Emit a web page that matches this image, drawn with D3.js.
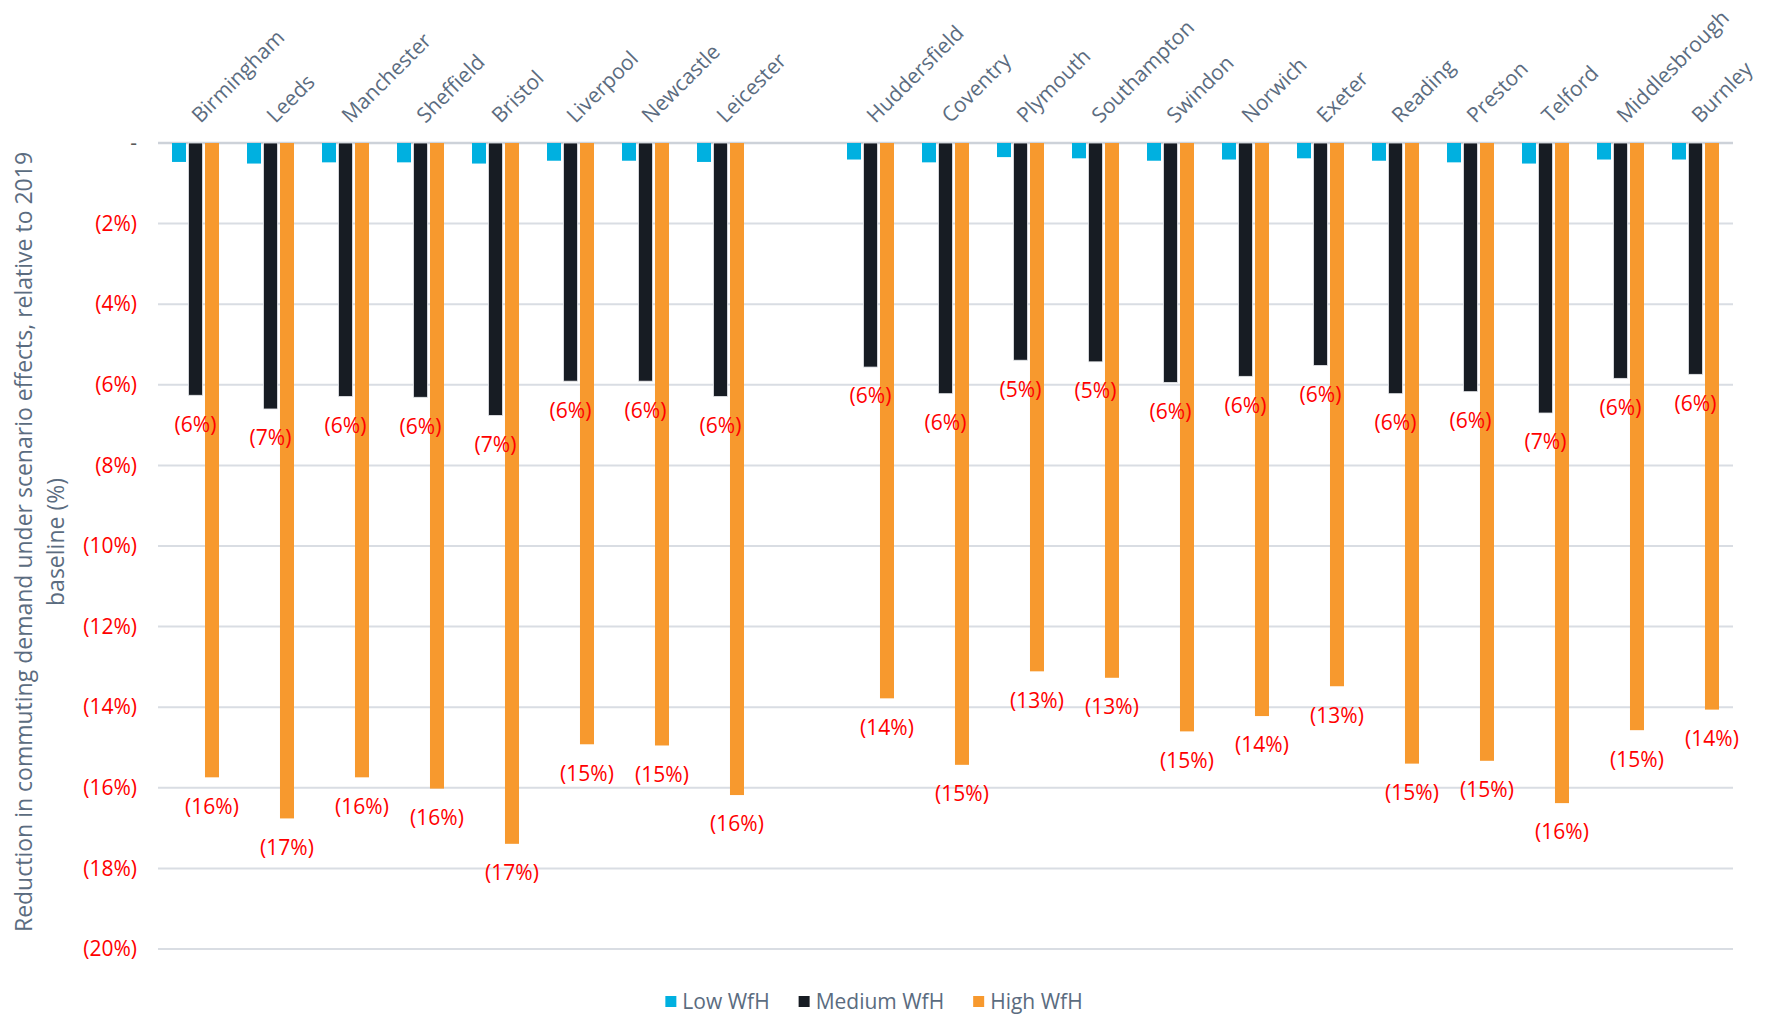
<!DOCTYPE html>
<html>
<head>
<meta charset="utf-8">
<script src="https://cdn.jsdelivr.net/npm/d3@7"></script>
<style>
  body { margin: 0; background: #fff; }
  text { font-family: "Open Sans", "Noto Sans", sans-serif; }
</style>
</head>
<body>
<div id="vis-container"></div>
<script>
// Data (reduction in %, positive = reduction)
const cities = ["Birmingham", "Leeds", "Manchester", "Sheffield", "Bristol", "Liverpool", "Newcastle", "Leicester",
                "Huddersfield", "Coventry", "Plymouth", "Southampton", "Swindon", "Norwich", "Exeter", "Reading",
                "Preston", "Telford", "Middlesbrough", "Burnley"];
const gapAfter = "Leicester";   // empty slot between the two city groups
const series = ["Low WfH", "Medium WfH", "High WfH"];
const lowWfH    = [0.47, 0.51, 0.48, 0.48, 0.51, 0.44, 0.44, 0.47, 0.41, 0.48, 0.35, 0.38, 0.44, 0.41, 0.38, 0.44, 0.48, 0.51, 0.41, 0.41];
const mediumWfH = [6.26, 6.60, 6.29, 6.31, 6.76, 5.91, 5.91, 6.29, 5.56, 6.22, 5.39, 5.43, 5.94, 5.79, 5.52, 6.22, 6.17, 6.70, 5.84, 5.74];
const highWfH   = [15.74, 16.76, 15.74, 16.02, 17.39, 14.92, 14.95, 16.18, 13.78, 15.43, 13.11, 13.27, 14.60, 14.22, 13.48, 15.40, 15.33, 16.38, 14.57, 14.06];
const yTicks = [0, 2, 4, 6, 8, 10, 12, 14, 16, 18, 20];

// Set margins and dimensions
const width = 1773;
const height = 1014;
const margin = { top: 143, right: 40, bottom: 65, left: 158 };

const colors = d3.scaleOrdinal().domain(series).range(["#00B0E0", "#171C23", "#F7992E"]);
const labelColor = "#5B6C80";

const svg = d3.select("#vis-container")
  .append("svg")
  .attr("width", width)
  .attr("height", height);

// Build rows for the bars
const rows = cities.map((c, i) => ({ city: c, values: [lowWfH[i], mediumWfH[i], highWfH[i]] }));

// X domain with a spacer after Leicester
const domain = [];
cities.forEach(c => { domain.push(c); if (c === gapAfter) domain.push("__gap__"); });

const x0 = d3.scaleBand()
  .domain(domain)
  .range([margin.left, width - margin.right])
  .paddingInner(0.3733)
  .paddingOuter(0.1867);

const x1 = d3.scaleBand()
  .domain(series)
  .range([0, x0.bandwidth()])
  .paddingInner(0.15);

const y = d3.scaleLinear()
  .domain([0, 20])
  .range([margin.top, height - margin.bottom]);

// Gridlines
svg.append("g")
  .selectAll("line")
  .data(yTicks)
  .join("line")
    .attr("x1", margin.left)
    .attr("x2", width - margin.right)
    .attr("y1", d => y(d))
    .attr("y2", d => y(d))
    .attr("stroke", d => d === 0 ? "#CDD2D9" : "#D9DDE3")
    .attr("stroke-width", d => d === 0 ? 2.5 : 2);

// Y axis labels
svg.append("g")
  .attr("transform", `translate(${margin.left - 18},0)`)
  .call(d3.axisLeft(y).tickValues(yTicks).tickSize(0)
    .tickFormat(d => d === 0 ? "-" : `(${d}%)`))
  .call(g => g.select(".domain").remove())
  .call(g => g.selectAll("text")
    .attr("font-size", "21px")
    .attr("font-family", "'Open Sans', sans-serif")
    .attr("fill", d => d === 0 ? "#595959" : "#FF0000"));

// Y axis title
svg.append("text")
  .attr("transform", `translate(24,${(margin.top + height - margin.bottom) / 2 - 4}) rotate(-90)`)
  .attr("text-anchor", "middle")
  .attr("font-size", "23px")
  .attr("fill", labelColor)
  .selectAll("tspan")
  .data(["Reduction in commuting demand under scenario effects, relative to 2019", "baseline (%)"])
  .join("tspan")
    .attr("x", 0)
    .attr("dy", (d, i) => i === 0 ? "0.35em" : "1.4em")
    .text(d => d);

// Category labels along the top
svg.append("g")
  .selectAll("text")
  .data(cities)
  .join("text")
    .attr("transform", d => `translate(${x0(d) + x0.bandwidth() / 2 + 5},${margin.top - 19}) rotate(-45)`)
    .attr("font-size", "21px")
    .attr("fill", labelColor)
    .text(d => d);

// Bars
const groups = svg.append("g")
  .selectAll("g")
  .data(rows)
  .join("g")
    .attr("transform", d => `translate(${x0(d.city)},0)`);

groups.selectAll("rect")
  .data(d => series.map((s, i) => ({ key: s, value: d.values[i] })))
  .join("rect")
    .attr("x", d => x1(d.key))
    .attr("y", y(0))
    .attr("width", x1.bandwidth())
    .attr("height", d => y(d.value) - y(0))
    .attr("fill", d => colors(d.key))
    .attr("stroke", d => d.key === "Medium WfH" ? "#E6E8EB" : "none")
    .attr("stroke-width", 0.8);

// Data labels for Medium and High
groups.selectAll("text")
  .data(d => series.map((s, i) => ({ key: s, value: d.values[i] })).filter(d => d.key !== "Low WfH"))
  .join("text")
    .attr("x", d => x1(d.key) + x1.bandwidth() / 2)
    .attr("y", d => y(d.value) + 29)
    .attr("dy", "0.35em")
    .attr("text-anchor", "middle")
    .attr("font-size", "21px")
    .attr("fill", "#FF0000")
    .text(d => `(${Math.round(d.value)}%)`);

// Legend
const legend = svg.append("g");
let lx = 0;
series.forEach(s => {
  const item = legend.append("g").attr("transform", `translate(${lx},0)`);
  item.append("rect")
    .attr("x", 0).attr("y", -6)
    .attr("width", 11).attr("height", 11)
    .attr("fill", colors(s));
  const t = item.append("text")
    .attr("x", 17).attr("y", 0)
    .attr("dy", "0.35em")
    .attr("font-size", "21px")
    .attr("fill", labelColor)
    .text(s);
  lx += 17 + t.node().getComputedTextLength() + 29;
});
const legendWidth = lx - 29;
legend.attr("transform", `translate(${874 - legendWidth / 2},1002)`);
</script>
</body>
</html>
